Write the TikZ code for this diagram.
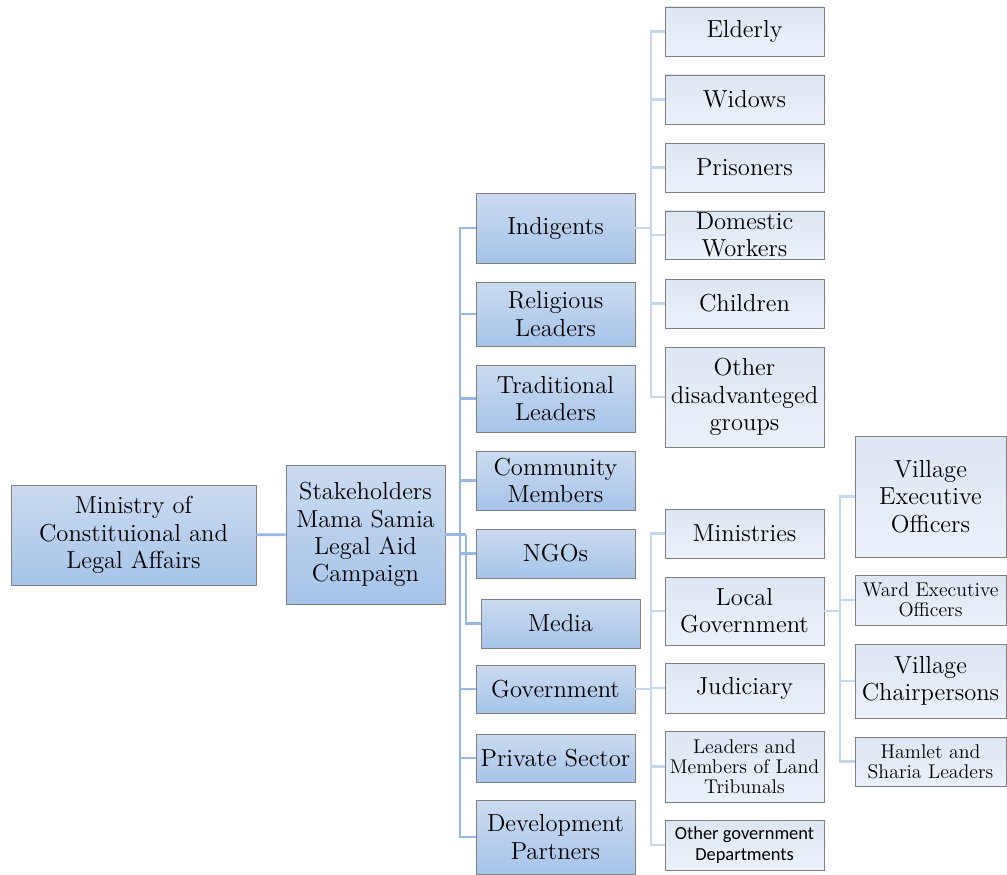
\documentclass[tikz,border=0pt]{standalone}
\usepackage{fontspec}
\newfontfamily\calib{Carlito}
\usepackage{tikz}
\usetikzlibrary{positioning, calc}
\definecolor{darkTop}{RGB}{203,219,240}
\definecolor{darkBot}{RGB}{166,196,233}
\definecolor{lightTop}{RGB}{221,230,243}
\definecolor{lightBot}{RGB}{235,241,249}
\definecolor{lineMain}{RGB}{150,184,226}
\definecolor{lineSub}{RGB}{198,214,236}
\definecolor{boxBorder}{RGB}{128,128,128}
\newcommand\bigtxt{\rmfamily\fontsize{14}{15.5}\selectfont}
\newcommand\smalltxt{\rmfamily\fontsize{11.3}{11.5}\selectfont}
\newcommand\calibtxt{\calib\fontsize{10.5}{12}\selectfont}

\begin{document}
\begin{tikzpicture}[x=0.02cm, y=-0.02cm]

    % --- Styles ---
    \tikzset{
        mainbox/.style={rectangle, draw=boxBorder, top color=darkTop, bottom color=darkBot, align=center, inner sep=1pt, font=\bigtxt},
        subbox/.style={mainbox, top color=lightTop, bottom color=lightBot},
        sz/.style args={#1/#2}{minimum width=#1*0.02cm, minimum height=#2*0.02cm},
        mainline/.style={draw=lineMain, line width=1.6pt},
        subline/.style={draw=lineSub, line width=1.4pt}
    }
    \useasboundingbox (0,0) rectangle (1007,875);

    % --- Root ---
    \node (min) [mainbox, sz=245/100] at (133.5,535) {Ministry of\\Constituional and\\Legal Affairs};
    \node (stake) [mainbox, sz=159/139] at (365.5,534.5) {Stakeholders\\Mama Samia\\Legal Aid\\Campaign};

    % --- Stakeholder groups ---
    \node (ind) [mainbox, sz=159/70] at (555.5,228) {Indigents};
    \node (rel) [mainbox, sz=159/64] at (555.5,314) {Religious\\Leaders};
    \node (trad) [mainbox, sz=159/67] at (555.5,398.5) {Traditional\\Leaders};
    \node (comm) [mainbox, sz=159/59] at (555.5,480.5) {Community\\Members};
    \node (ngo) [mainbox, sz=159/49] at (555.5,553.5) {NGOs};
    \node (media) [mainbox, sz=159/49] at (560.5,623.5) {Media};
    \node (gov) [mainbox, sz=159/48] at (555.5,689) {Government};
    \node (priv) [mainbox, sz=159/48] at (555.5,758) {Private Sector};
    \node (dev) [mainbox, sz=159/74] at (555.5,837) {Development\\Partners};

    % --- Indigents ---
    \node (eld) [subbox, sz=159/49] at (744.5,31.5) {Elderly};
    \node (wid) [subbox, sz=159/49] at (744.5,99.5) {Widows};
    \node (pris) [subbox, sz=159/49] at (744.5,167.5) {Prisoners};
    \node (dom) [subbox, sz=159/48] at (744.5,235) {Domestic\\Workers};
    \node (chil) [subbox, sz=159/49] at (744.5,303.5) {Children};
    \node (oth) [subbox, sz=159/100] at (744.5,397) {Other\\disadvanteged\\groups};

    % --- Government ---
    \node (mins) [subbox, sz=159/49] at (744.5,533.5) {Ministries};
    \node (loc) [subbox, sz=159/68] at (744.5,611) {Local\\Government};
    \node (jud) [subbox, sz=159/50] at (744.5,688) {Judiciary};
    \node (land) [subbox, sz=159/71, font=\smalltxt] at (744.5,766.5) {Leaders and\\Members of Land\\Tribunals};
    \node (ogd) [subbox, sz=159/50, font=\calibtxt] at (744.5,845) {Other government\\Departments};

    % --- Local Government ---
    \node (veo) [subbox, sz=151/121] at (930.5,496.5) {Village\\Executive\\Officers};
    \node (weo) [subbox, sz=151/50, font=\smalltxt] at (930.5,600) {Ward Executive\\Officers};
    \node (vch) [subbox, sz=151/74] at (930.5,681) {Village\\Chairpersons};
    \node (ham) [subbox, sz=151/49, font=\smalltxt] at (930.5,761.5) {Hamlet and\\Sharia Leaders};

    % --- Connectors ---
    \draw [mainline] (min) -- (stake);
    \coordinate (t1) at (460,534.5);
    \coordinate (t1b) at (466,534.5);
    \draw [mainline] (stake.east) -- (t1b);
    \foreach \n in {ind,rel,trad,comm,ngo,gov,priv,dev}
        \draw [mainline] (t1) |- (\n.west);
    \draw [mainline] (t1b) |- (media.west);

    \coordinate (t2) at (651,228);
    \draw [subline] (ind.east) -- (t2);
    \foreach \n in {eld,wid,pris,dom,chil,oth}
        \draw [subline] (t2) |- (\n.west);

    \coordinate (t3) at (651,689);
    \draw [subline] (gov.east) -- (t3);
    \foreach \n in {mins,loc,jud,land,ogd}
        \draw [subline] (t3) |- (\n.west);

    \coordinate (t4) at (840,611);
    \draw [subline] (loc.east) -- (t4);
    \foreach \n in {veo,weo,vch,ham}
        \draw [subline] (t4) |- (\n.west);

\end{tikzpicture}
\end{document}
